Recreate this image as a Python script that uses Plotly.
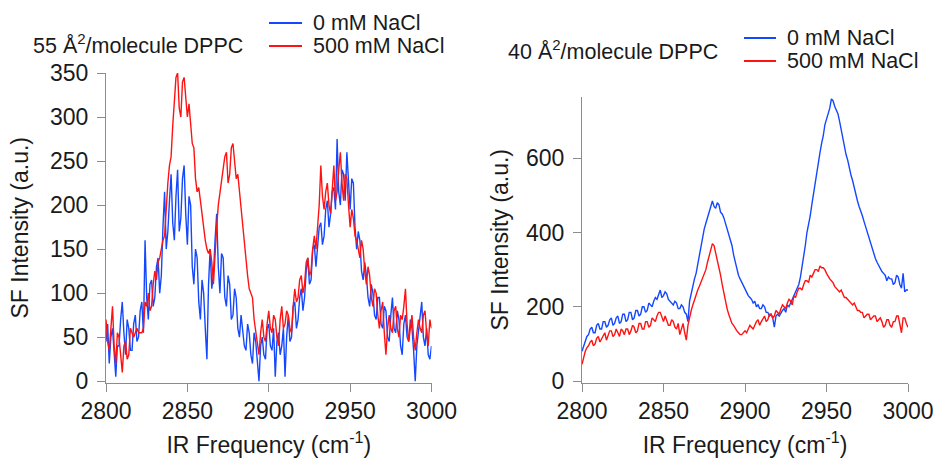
import plotly.graph_objects as go

# ---------------- data ----------------
freq = list(range(2800, 3001, 1))

left_0mM = [45, 65, 20, 50, 60, 25, 5, 40, 40, 70,
            90, 55, 30, 70, 60, 35, 35, 65, 75, 45,
            50, 80, 90, 55, 160, 95, 70, 110, 115, 85,
            95, 130, 140, 100, 120, 175, 215, 150, 170, 205,
            235, 180, 160, 210, 240, 170, 185, 230, 245, 190,
            155, 210, 200, 130, 110, 150, 140, 90, 70, 115,
            100, 60, 25, 110, 150, 105, 120, 160, 190, 130,
            100, 145, 140, 95, 85, 120, 110, 70, 75, 105,
            95, 60, 50, 75, 60, 40, 35, 65, 55, 30,
            20, 55, 45, 25, 0, 40, 50, 30, 25, 60,
            65, 40, 35, 60, 5, 45, 55, 30, 40, 60,
            5, 50, 75, 45, 50, 85, 90, 60, 70, 95,
            105, 80, 95, 125, 140, 110, 115, 150, 155, 130,
            150, 175, 180, 155, 165, 195, 205, 175, 190, 215,
            220, 195, 275, 215, 200, 240, 235, 205, 260, 225,
            195, 230, 225, 175, 150, 170, 160, 125, 115, 135,
            120, 95, 85, 110, 100, 75, 70, 95, 95, 65,
            60, 85, 80, 50, 45, 75, 95, 60, 55, 80,
            70, 40, 30, 65, 75, 50, 45, 70, 60, 35,
            0, 40, 55, 75, 90, 50, 40, 60, 30, 25,
            40]

left_500mM = [70, 45, 35, 60, 85, 40, 20, 55, 50, 30,
              10, 40, 45, 25, 30, 60, 55, 50, 55, 60,
              55, 55, 55, 60, 90, 85, 100, 80, 85, 110,
              125, 115, 135, 140, 150, 160, 165, 200, 225, 245,
              255, 290, 320, 345, 350, 310, 300, 340, 345, 320,
              300, 315, 290, 270, 265, 230, 215, 220, 205, 190,
              170, 160, 150, 145, 150, 135, 110, 150, 175, 200,
              215, 230, 240, 255, 260, 225, 235, 265, 270, 245,
              230, 235, 215, 200, 175, 160, 135, 120, 105, 100,
              95, 70, 55, 40, 30, 55, 70, 50, 45, 65,
              80, 60, 55, 75, 70, 50, 40, 70, 85, 60,
              65, 80, 75, 60, 55, 85, 105, 90, 95, 115,
              120, 100, 110, 135, 140, 120, 125, 150, 165, 150,
              175, 200, 245, 210, 195, 215, 225, 200, 190, 220,
              245, 205, 215, 240, 260, 225, 205, 235, 230, 200,
              175, 195, 185, 165, 160, 150, 140, 160, 150, 125,
              110, 130, 120, 95, 85, 105, 100, 75, 60, 80,
              90, 55, 30, 60, 75, 60, 55, 80, 85, 60,
              50, 75, 70, 85, 105, 65, 45, 60, 75, 50,
              35, 55, 70, 60, 55, 75, 80, 55, 40, 70,
              60]

right_0mM = [80, 95, 110, 120, 125, 140, 145, 130, 130, 150,
             155, 140, 140, 160, 160, 145, 150, 165, 170, 150,
             155, 170, 175, 155, 160, 180, 180, 160, 165, 185,
             185, 165, 170, 190, 190, 175, 180, 200, 200, 185,
             190, 210, 205, 200, 215, 225, 220, 235, 245, 225,
             230, 240, 235, 220, 215, 210, 205, 215, 210, 195,
             195, 205, 200, 185, 180, 160, 215, 235, 260, 275,
             290, 315, 340, 370, 395, 410, 425, 440, 450, 470,
             485, 470, 465, 480, 475, 455, 450, 440, 425, 415,
             400, 385, 365, 340, 320, 300, 285, 275, 265, 255,
             245, 235, 230, 225, 220, 210, 215, 200, 205, 195,
             195, 205, 200, 185, 185, 175, 180, 170, 145, 175,
             180, 175, 185, 190, 195, 185, 205, 200, 210, 220,
             225, 235, 245, 260, 280, 305, 335, 365, 400, 420,
             445, 475, 505, 530, 560, 585, 615, 640, 660, 690,
             705, 725, 735, 760, 755, 740, 730, 720, 700, 675,
             650, 630, 610, 595, 570, 555, 540, 520, 505, 485,
             470, 460, 445, 430, 415, 400, 385, 370, 355, 345,
             330, 320, 310, 300, 295, 290, 285, 270, 280, 275,
             275, 260, 265, 285, 280, 260, 250, 290, 240, 245,
             245]

right_500mM = [45, 65, 80, 90, 95, 105, 110, 95, 100, 115,
               120, 105, 115, 125, 130, 110, 120, 135, 135, 120,
               125, 140, 130, 120, 140, 135, 125, 140, 140, 125,
               135, 150, 145, 130, 135, 155, 155, 140, 140, 160,
               160, 145, 150, 170, 165, 160, 175, 185, 185, 170,
               160, 175, 165, 150, 150, 165, 160, 145, 140, 155,
               125, 140, 155, 130, 110, 150, 175, 190, 205, 220,
               230, 245, 255, 265, 275, 290, 300, 320, 335, 355,
               370, 365, 345, 330, 310, 285, 260, 235, 210, 195,
               180, 165, 155, 150, 140, 135, 130, 125, 125, 130,
               135, 130, 140, 150, 145, 140, 150, 160, 165, 150,
               160, 170, 175, 160, 165, 180, 180, 170, 175, 190,
               185, 180, 195, 205, 200, 195, 210, 220, 215, 205,
               230, 225, 240, 250, 250, 245, 260, 270, 270, 265,
               285, 280, 290, 300, 300, 295, 310, 305, 305, 300,
               290, 280, 275, 270, 265, 255, 250, 245, 240, 245,
               235, 225, 225, 220, 215, 210, 205, 210, 200, 190,
               190, 185, 185, 170, 175, 180, 180, 165, 170, 175,
               175, 160, 165, 170, 160, 145, 150, 165, 165, 150,
               145, 160, 160, 175, 175, 150, 130, 170, 170, 155,
               145]

series_names = ["0 mM NaCl", "500 mM NaCl"]
left_title = "55 Å<sup>2</sup>/molecule DPPC"
right_title = "40 Å<sup>2</sup>/molecule DPPC"
x_ticks = [2800, 2850, 2900, 2950, 3000]
left_yticks = [0, 50, 100, 150, 200, 250, 300, 350]
right_yticks = [0, 200, 400, 600]

BLUE = "#1448ff"
RED = "#ff1212"
W, H = 936, 458
FONT = "Liberation Sans, Arial, sans-serif"
TXT = "#1a1a1a"
AX = "#8c8c8c"


def px(x):
    return x / W


def py(y):
    return 1 - y / H


fig = go.Figure()
for xa, ya, ys in (("x", "y", (left_0mM, left_500mM)), ("x2", "y2", (right_0mM, right_500mM))):
    for vals, col, name in zip(ys, (BLUE, RED), series_names):
        fig.add_trace(go.Scatter(x=freq, y=vals, mode="lines", name=name,
                                 line=dict(color=col, width=1.4), xaxis=xa, yaxis=ya,
                                 showlegend=False))

xtitle = dict(text="IR Frequency (cm<sup>-1</sup>)", font=dict(size=23, color=TXT, family=FONT), standoff=13)


def ytitle(standoff):
    return dict(text="SF Intensity (a.u.)", font=dict(size=23, color=TXT, family=FONT), standoff=standoff)


common_x = dict(range=[2800, 3000], tickvals=x_ticks, ticks="outside", ticklen=8, tickwidth=1,
                tickcolor=AX, showline=True, linecolor=AX, linewidth=1, showgrid=False,
                zeroline=False, tickfont=dict(size=23, color=TXT, family=FONT), automargin=False)
common_y = dict(ticks="outside", ticklen=8, tickwidth=1, tickcolor=AX, showline=True,
                linecolor=AX, linewidth=1, showgrid=False, zeroline=False, ticklabelstandoff=4,
                tickfont=dict(size=23, color=TXT, family=FONT), automargin=False)

fig.update_layout(
    width=W, height=H, margin=dict(l=0, r=0, t=0, b=0),
    paper_bgcolor="white", plot_bgcolor="white", template="none",
    xaxis=dict(domain=[px(106), px(431.5)], anchor="y", title=xtitle, **common_x),
    yaxis=dict(domain=[py(382.5), py(73)], anchor="x", range=[-1.5, 350],
               tickvals=left_yticks, title=ytitle(14), **common_y),
    xaxis2=dict(domain=[px(582), px(908)], anchor="y2", title=xtitle, **common_x),
    yaxis2=dict(domain=[py(382.5), py(97)], anchor="x2", range=[-4, 765],
                tickvals=right_yticks, title=ytitle(10), **common_y),
)

# titles
ann_font = dict(size=21.5, color=TXT, family=FONT)
fig.add_annotation(text=left_title, x=px(31), y=py(44), xref="paper", yref="paper",
                   xanchor="left", yanchor="middle", showarrow=False, font=ann_font)
fig.add_annotation(text=right_title, x=px(506), y=py(50), xref="paper", yref="paper",
                   xanchor="left", yanchor="middle", showarrow=False, font=ann_font)

# legends (line samples + labels)
legend_spec = [
    (269, 302, 311, 23, 46),
    (744, 776, 785, 38, 61),
]
for x0, x1, xt, yb, yr in legend_spec:
    for yy, col, name in ((yb, BLUE, series_names[0]), (yr, RED, series_names[1])):
        fig.add_shape(type="line", x0=px(x0), x1=px(x1), y0=py(yy), y1=py(yy),
                      xref="paper", yref="paper", line=dict(color=col, width=2))
        fig.add_annotation(text=name, x=px(xt), y=py(yy), xref="paper", yref="paper",
                           xanchor="left", yanchor="middle", showarrow=False, font=ann_font)

fig.write_html("out.html")
